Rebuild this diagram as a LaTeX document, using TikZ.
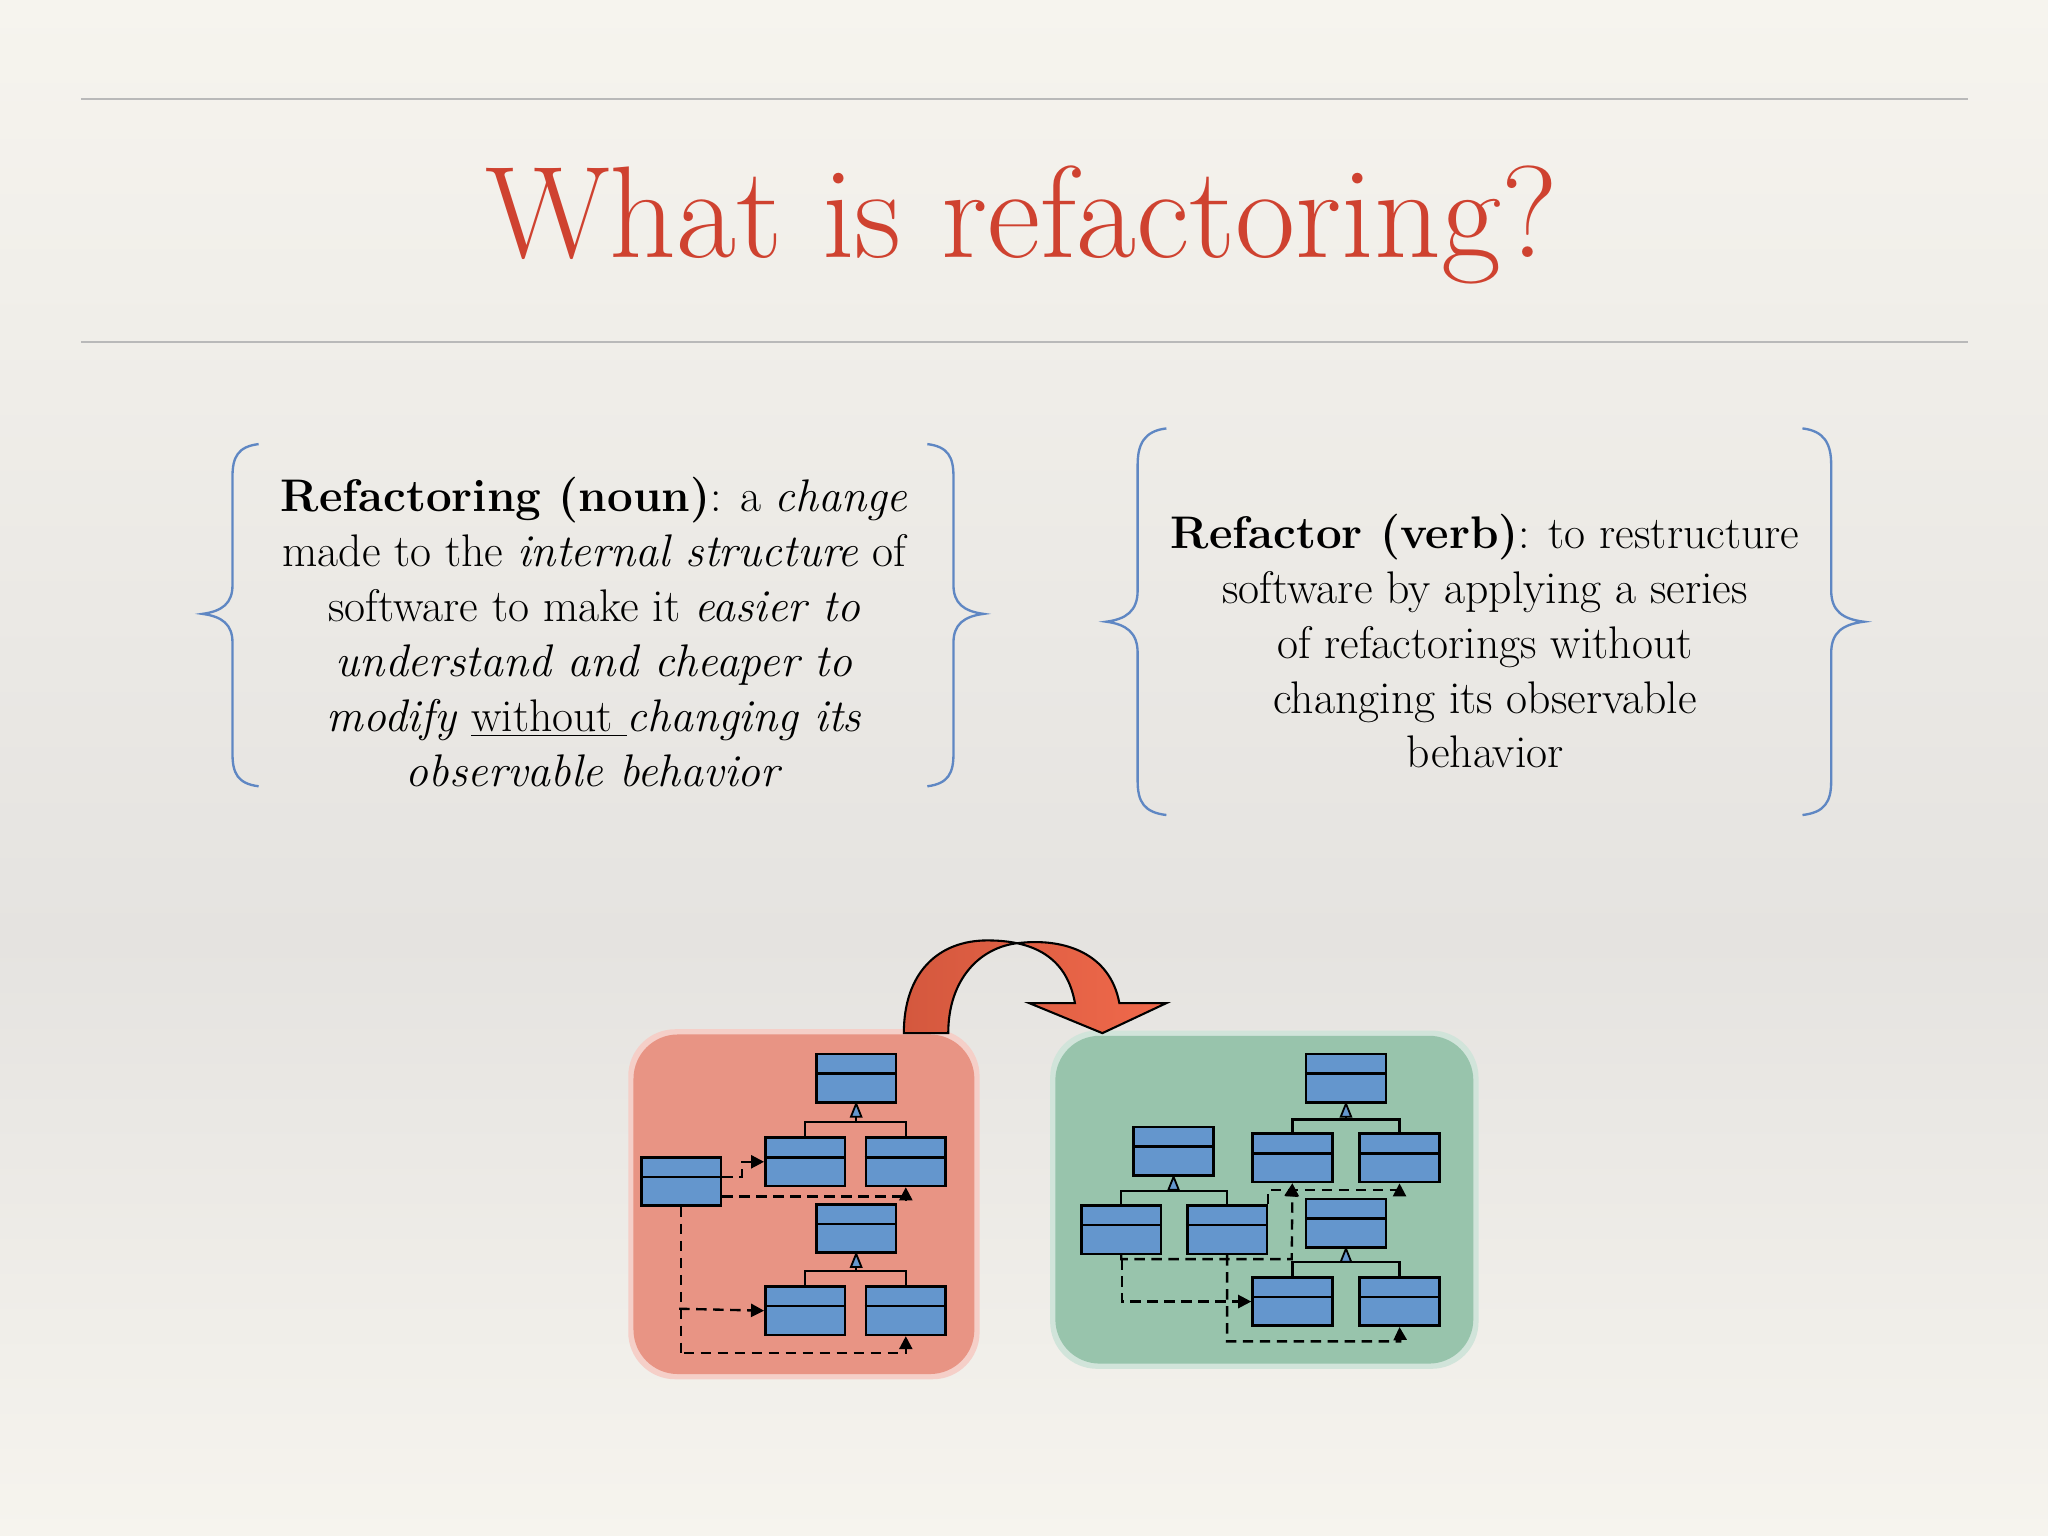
\documentclass[tikz,border=0pt]{standalone}
\usetikzlibrary{arrows.meta}
\definecolor{bgA}{RGB}{246,244,238}
\definecolor{bgB}{RGB}{229,227,224}
\definecolor{titlered}{RGB}{207,66,48}
\definecolor{bracec}{RGB}{95,135,195}
\definecolor{clsblue}{RGB}{100,150,205}
\definecolor{redbox}{RGB}{232,148,132}
\definecolor{greenbox}{RGB}{152,196,172}
\definecolor{arrowA}{RGB}{212,88,62}
\definecolor{arrowB}{RGB}{240,105,75}
\tikzset{
 cls/.style={draw=black,line width=1pt,fill=clsblue,minimum width=30.5pt,minimum height=18.5pt,inner sep=0pt},
 dep/.style={dash pattern=on 4pt off 2.5pt,line width=0.9pt,-{Triangle[length=5pt,width=5pt]}},
 inh/.style={line width=0.9pt},
 brc/.style={draw=bracec,line width=0.9pt},
 body/.style={align=center,font=\fontsize{17.5}{21}\selectfont}
}
\newcommand{\umlcls}[3]{\node[cls,anchor=north west] (#1) at (#2,#3) {};
 \draw[line width=1pt] ([yshift=-8pt]#1.north west) -- ([yshift=-8pt]#1.north east);}
\newcommand{\inhtree}[4]{% parent, child1, child2, bar y
 \draw[inh] (#2.north) |- (#2.north |- 0,#4) -| (#3.north);
 \draw[inh] ([yshift=-5pt]#1.south) -- (#1.south |- 0,#4);
 \draw[line width=0.7pt,fill=clsblue] (#1.south) -- ([xshift=-2pt,yshift=-5pt]#1.south) -- ([xshift=2pt,yshift=-5pt]#1.south) -- cycle;}
\begin{document}
\begin{tikzpicture}[x=0.5pt,y=-0.5pt]
\useasboundingbox (0,0) rectangle (1568,1176);
\shade[top color=bgA,bottom color=bgB] (0,0) rectangle (1568,720);
\shade[top color=bgB,bottom color=bgA] (0,720) rectangle (1568,1176);
\draw[gray!55,line width=0.6pt] (62,76) -- (1507,76);
\draw[gray!55,line width=0.6pt] (62,262) -- (1507,262);
\node[text=titlered,font=\fontsize{50}{54}\selectfont] (title) at (782,172) {What is refactoring?};
\draw[brc] (198,340) .. controls (182,342) and (178,350) .. (178,365) -- (178,448) .. controls (178,462) and (170,468) .. (155,470) .. controls (170,472) and (178,478) .. (178,492) -- (178,577) .. controls (178,592) and (182,600) .. (198,602);
\draw[brc] (710,340) .. controls (726,342) and (730,350) .. (730,365) -- (730,448) .. controls (730,462) and (738,468) .. (753,470) .. controls (738,472) and (730,478) .. (730,492) -- (730,577) .. controls (730,592) and (726,600) .. (710,602);
\draw[brc] (893,328) .. controls (876,330) and (871,340) .. (871,356) -- (871,452) .. controls (871,468) and (862,474) .. (847,476) .. controls (862,478) and (871,484) .. (871,500) -- (871,598) .. controls (871,614) and (876,622) .. (893,624);
\draw[brc] (1380,328) .. controls (1397,330) and (1402,340) .. (1402,356) -- (1402,452) .. controls (1402,468) and (1411,474) .. (1427,476) .. controls (1411,478) and (1402,484) .. (1402,500) -- (1402,598) .. controls (1402,614) and (1397,622) .. (1380,624);
\node[body] (noun) at (455,484) {\textbf{Refactoring (noun)}: a \textit{change}\\ made to the \textit{internal structure} of\\ software to make it \textit{easier to}\\ \textit{understand and cheaper to}\\ \textit{modify} \underline{without }\textit{changing its}\\ \textit{observable behavior}};
\node[body] (verb) at (1137,491) {\textbf{Refactor (verb)}: to restructure\\ software by applying a series\\ of refactorings without\\ changing its observable\\ behavior};
\fill[redbox!45!white,rounded corners=18pt] (481,788) rectangle (750,1056);
\fill[redbox,rounded corners=17pt] (485,792) rectangle (746,1052);
\fill[greenbox!45!white,rounded corners=18pt] (804,789) rectangle (1132,1048);
\fill[greenbox,rounded corners=17pt] (808,793) rectangle (1128,1044);
\draw[line width=0.8pt,left color=arrowA,right color=arrowB] (692,791) .. controls (692,745) and (718,720) .. (756,720) .. controls (800,720) and (818,740) .. (823,768) -- (788,768) -- (844,791) -- (893,768) -- (857,768) .. controls (850,730) and (815,718) .. (780,722) .. controls (750,725) and (726,750) .. (726,791) -- cycle;
\umlcls{A}{624}{806}
\umlcls{B}{585}{870}
\umlcls{C}{662}{870}
\umlcls{D}{490}{885}
\umlcls{E}{624}{921}
\umlcls{F}{585}{984}
\umlcls{G}{662}{984}
\inhtree{A}{B}{C}{859}
\inhtree{E}{F}{G}{973}
\draw[dep] (D.east |- 0,901) -- (568,901) |- (B.west);
\draw[dep] (D.east |- 0,916) -| (C.south);
\draw[dep] (D.south) |- (520,1036) -| (G.south);
\draw[dep] (520,1002) -- (F.west);
\umlcls{H}{999}{806}
\umlcls{I}{958}{867}
\umlcls{J}{1040}{867}
\umlcls{K}{867}{862}
\umlcls{L}{827}{922}
\umlcls{M}{908}{922}
\umlcls{N}{999}{917}
\umlcls{O}{958}{977}
\umlcls{P}{1040}{977}
\inhtree{H}{I}{J}{857}
\inhtree{K}{L}{M}{912}
\inhtree{N}{O}{P}{966}
\draw[dep] (M.north east) |- (972,911) -| (J.south);
\draw[dep] (989,911) -- (I.south);
\draw[dep] (L.south) |- (989,964) -- (I.south);
\draw[dep] (859,964) |- (O.west);
\draw[dep] (M.south) |- (1072,1027) -- (P.south);
\end{tikzpicture}
\end{document}
